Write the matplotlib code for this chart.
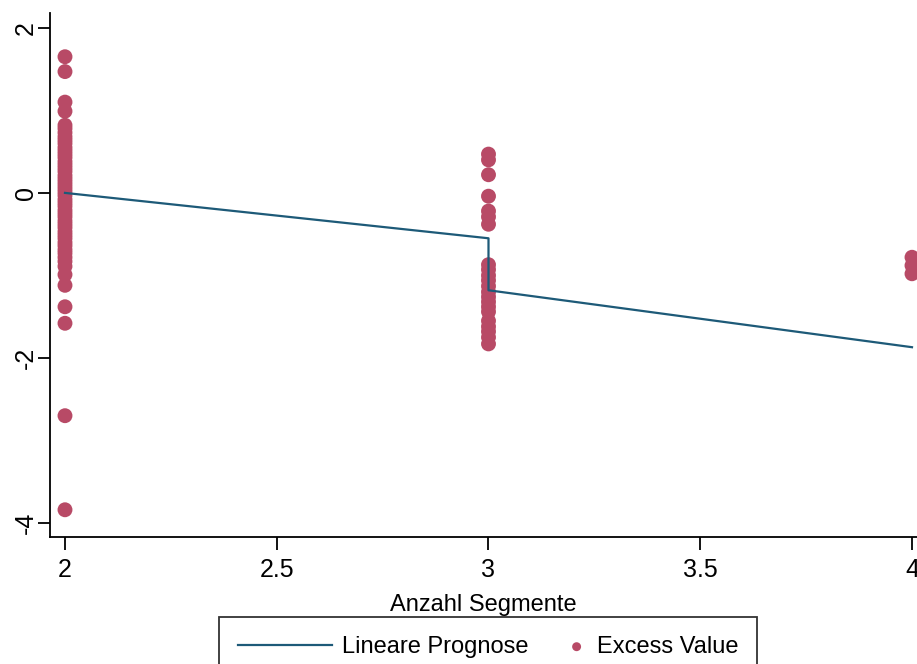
import matplotlib
matplotlib.use("Agg")
import matplotlib.pyplot as plt
from matplotlib.legend_handler import HandlerPathCollection
import numpy as np

plt.rcParams['font.family'] = ['Liberation Sans', 'DejaVu Sans']

# Excess values by number of segments
seg2 = [1.65, 1.47, 1.10, 0.99, 0.82, 0.78, 0.73, 0.68, 0.64, 0.60, 0.55, 0.51,
        0.47, 0.43, 0.38, 0.34, 0.30, 0.26, 0.21, 0.17, 0.13, 0.09, 0.05, 0.01,
        -0.03, -0.08, -0.12, -0.16, -0.21, -0.25, -0.29, -0.34, -0.38, -0.42,
        -0.47, -0.51, -0.55, -0.60, -0.64, -0.69, -0.73, -0.78, -0.83, -0.89,
        -0.99, -1.12, -1.38, -1.58, -2.70, -3.84]
seg3 = [0.47, 0.40, 0.22, -0.04, -0.22, -0.29, -0.38, -0.87, -0.93, -1.00,
        -1.06, -1.13, -1.20, -1.26, -1.32, -1.38, -1.44, -1.55, -1.62, -1.68,
        -1.75, -1.83]
seg4 = [-0.78, -0.88, -0.98]

# Linear prediction line
fit_x = [2, 3, 3, 4]
fit_y = [0.0, -0.55, -1.18, -1.87]

xticks = [2, 2.5, 3, 3.5, 4]
xticklabels = ['2', '2.5', '3', '3.5', '4']
yticks = [-4, -2, 0, 2]
yticklabels = ['-4', '-2', '0', '2']


class RightMarkerHandler(HandlerPathCollection):
    def get_xdata(self, legend, xdescent, ydescent, width, height, fontsize):
        return np.array([width - 0.45 * fontsize]), np.array([width - 0.45 * fontsize])


fig = plt.figure(figsize=(9.17, 6.64), dpi=100)
ax = fig.add_axes([50/917, 1-537/664, 1-50/917, (537-13)/664])

marker_color = '#b84a66'
line_color = '#1d5a78'

ln, = ax.plot(fit_x, fit_y, color=line_color, lw=1.6, zorder=3, label='Lineare Prognose')
xs = [2]*len(seg2) + [3]*len(seg3) + [4]*len(seg4)
ys = seg2 + seg3 + seg4
sc = ax.scatter(xs, ys, s=115, color=marker_color, edgecolors='none', zorder=2,
                label='Excess Value', clip_on=True)

ax.set_xlim(1.9646, 4.0118)
ax.set_ylim(-4.17, 2.18)
ax.set_xticks(xticks)
ax.set_xticklabels(xticklabels)
ax.set_yticks(yticks)
ax.set_yticklabels(yticklabels, rotation=90, va='center')
for s in ['top', 'right']:
    ax.spines[s].set_visible(False)
for s in ['left', 'bottom']:
    ax.spines[s].set_linewidth(1.3)
ax.tick_params(axis='both', direction='out', length=9, width=1.3, labelsize=18)
ax.tick_params(axis='x', pad=6)
ax.tick_params(axis='y', pad=0)
ax.set_xlabel('Anzahl Segmente', fontsize=17, labelpad=9)

leg = fig.legend(handles=[ln, sc], labels=['Lineare Prognose', 'Excess Value'],
                 loc='upper center', bbox_to_anchor=(488/917, 1-617/664),
                 ncol=2, fontsize=17, frameon=True, fancybox=False,
                 edgecolor='black', handlelength=4.0, handletextpad=0.4,
                 columnspacing=-1.5, markerscale=0.6, borderpad=0.8,
                 borderaxespad=0.0,
                 handler_map={type(sc): RightMarkerHandler()})
leg.get_frame().set_linewidth(1.3)

fig.savefig('out.png', dpi=100, facecolor='white')
